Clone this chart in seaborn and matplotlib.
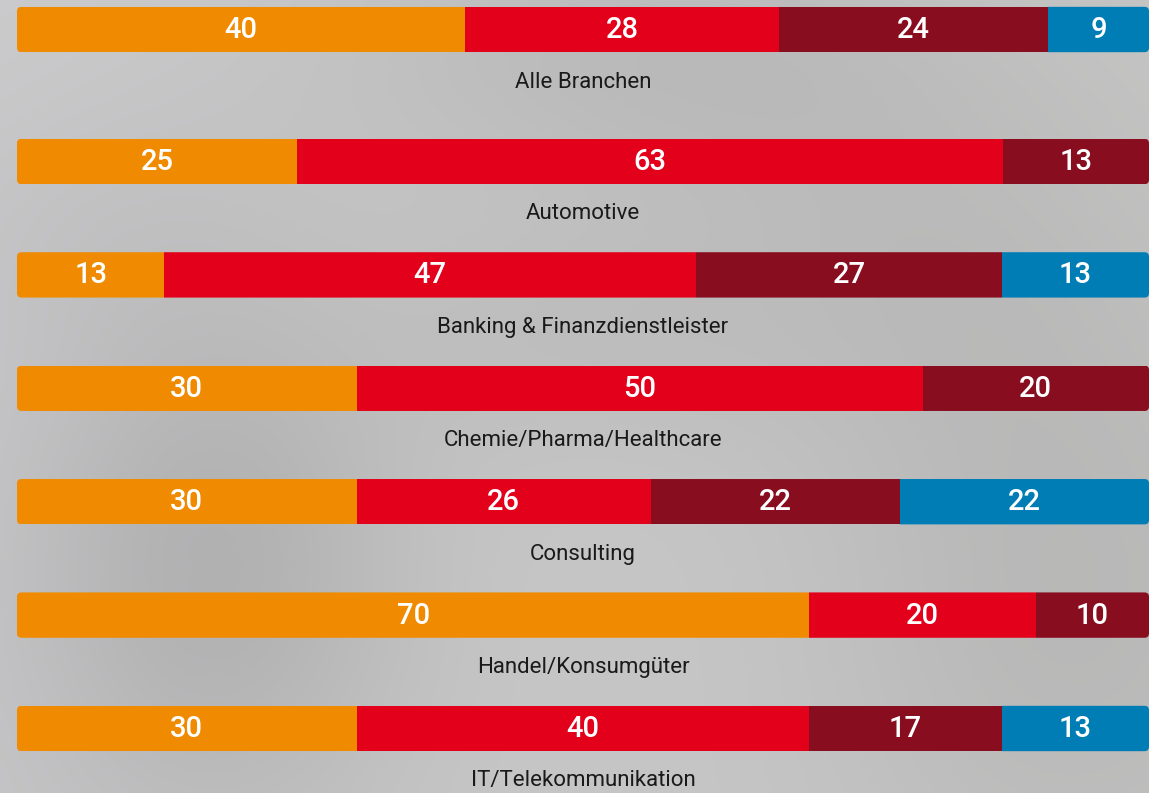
import numpy as np
import pandas as pd
import matplotlib
matplotlib.use("Agg")
import matplotlib.pyplot as plt
from matplotlib.patches import FancyBboxPatch
import seaborn as sns

# --- data -------------------------------------------------------------
branchen = [
    "Alle Branchen",
    "Automotive",
    "Banking & Finanzdienstleister",
    "Chemie/Pharma/Healthcare",
    "Consulting",
    "Handel/Konsumgüter",
    "IT/Telekommunikation",
]
seg1 = [40, 25, 13, 30, 30, 70, 30]          # orange
seg2 = [28, 63, 47, 50, 26, 20, 40]          # red
seg3 = [24, 13, 27, 20, 22, 10, 17]          # dark red
seg4 = [9, 0, 13, 0, 22, 0, 13]              # blue (0 = not present)

farben = ["#F08A00", "#E2001A", "#870D1F", "#007DB5"]

# --- layout -----------------------------------------------------------
W, H = 1149, 793
row_gap_first = 0.164            # extra space after the overall row
slots = np.array([0.0] + [1.0 + row_gap_first + i for i in range(len(branchen) - 1)])
bar_h = 0.40
px_per_unit = 113.4
top_px = 29.5

sns.set_theme(style="white")
plt.rcParams["font.family"] = ["Roboto", "DejaVu Sans"]

fig = plt.figure(figsize=(W / 100, H / 100), dpi=100)

# soft grey backdrop
bg_ax = fig.add_axes([0, 0, 1, 1], zorder=-2)
yy, xx = np.mgrid[0:H, 0:W]
base = np.full((H, W), 199.0)
base += 4 * (1 - xx / W) * (1 - yy / H)
def blob(cx, cy, sx, sy, amp):
    return amp * np.exp(-(((xx - cx) / sx) ** 2 + ((yy - cy) / sy) ** 2) / 2)
shade = (blob(210, 560, 140, 190, -22) + blob(640, 50, 240, 100, -13)
         + blob(1070, 600, 180, 230, -14) + blob(900, 260, 180, 140, -9)
         + blob(560, 330, 150, 90, -8) + blob(90, 230, 150, 100, -5))
lum = base + shade
img = np.dstack([lum, lum - 0.5, lum - 1.0 + 2 * (1 - xx / W)]) / 255.0
bg_ax.imshow(np.clip(img, 0, 1), aspect="auto", interpolation="bilinear")
bg_ax.set_axis_off()

ax = fig.add_axes([17 / W, 0, (W - 17) / W, 1])
ax.set_facecolor("none")

df = pd.DataFrame({"branche": branchen, "slot": slots,
                   "s1": seg1, "s2": seg2, "s3": seg3, "s4": seg4})
seg_cols = ["s1", "s2", "s3", "s4"]
total = df[seg_cols].sum(axis=1)
pct = df[seg_cols].div(total, axis=0) * 100
starts = pct.cumsum(axis=1) - pct

# stacked bars: one barplot per segment, each starting where the previous ends
for k, c in enumerate(seg_cols):
    d = pd.DataFrame({"len": pct[c], "start": starts[c], "slot": df["slot"]})
    d = d[df[c] > 0].sort_values("slot")
    sns.barplot(data=d, x="len", y="slot", orient="y", native_scale=True,
                width=bar_h, color=farben[k], saturation=1, linewidth=0,
                left=d["start"].to_numpy(), ax=ax)

ax.set_xlim(0, 100)
y_top = -top_px / px_per_unit
y_bot = (H - top_px) / px_per_unit
ax.set_ylim(y_bot, y_top)

# rounded ends for every row
x_unit_px = (W - 17) / 100
r_x = 4.5 / x_unit_px
aspect = (1 / px_per_unit) / (1 / x_unit_px)
clips = {}
for s in slots:
    p = FancyBboxPatch((0, s - bar_h / 2), 100, bar_h,
                       boxstyle=f"round,pad=0,rounding_size={r_x}",
                       mutation_aspect=aspect, transform=ax.transData,
                       facecolor="none", edgecolor="none")
    clips[s] = p
for bar in ax.patches:
    yc = bar.get_y() + bar.get_height() / 2
    s = slots[np.argmin(np.abs(slots - yc))]
    bar.set_clip_path(clips[s])

# value labels and category names
for i, row in df.iterrows():
    for k, c in enumerate(seg_cols):
        v = row[c]
        if v > 0:
            ax.text(starts.loc[i, c] + pct.loc[i, c] / 2, row["slot"] + 0.005,
                    f"{int(v)}", ha="center", va="center", color="white",
                    fontsize=21, fontweight="medium")
    ax.text(50, row["slot"] + 52.5 / px_per_unit, row["branche"],
            ha="center", va="center", color="#1a1a1a", fontsize=16)

ax.set_axis_off()
fig.savefig("out.png", dpi=100)
